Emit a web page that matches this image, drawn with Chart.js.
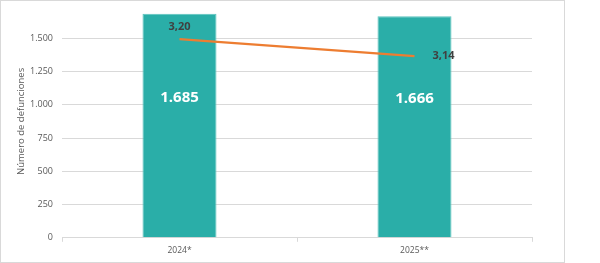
<!DOCTYPE html>
<html>
<head>
<meta charset="utf-8">
<script src="https://cdn.jsdelivr.net/npm/chart.js@4"></script>
<style>
    body { margin: 0; background: #fff; }
    #frame { position: absolute; left: 0; top: 0; width: 563px; height: 261px; border: 1px solid #d9d9d9; }
</style>
</head>
<body>
<div id="frame"><canvas id="chart" width="563" height="261"></canvas></div>
<script>
// Datos del gráfico
const years = ['2024*', '2025**'];
const deaths = [1685, 1666];
const rates = [3.20, 3.14];
const yTicks = [0, 250, 500, 750, 1000, 1250, 1500];

const fmtThousands = v => String(v).replace(/\B(?=(\d{3})+(?!\d))/g, '.');
const fmtRate = v => v.toFixed(2).replace('.', ',');

// Etiquetas de datos dibujadas a mano
const labelsPlugin = {
    id: 'labels',
    afterDatasetsDraw(chart) {
        const ctx = chart.ctx;
        ctx.save();
        ctx.textAlign = 'center';
        ctx.textBaseline = 'middle';

        const bars = chart.getDatasetMeta(1).data;
        ctx.fillStyle = '#ffffff';
        ctx.font = 'bold 15px "Open Sans"';
        bars.forEach((bar, i) => {
            const y = bar.y + (bar.base - bar.y) * 0.375;
            ctx.fillText(fmtThousands(deaths[i]), bar.x, y);
        });

        const pts = chart.getDatasetMeta(0).data;
        ctx.fillStyle = '#404040';
        ctx.font = 'bold 11px "Open Sans"';
        ctx.fillText(fmtRate(rates[0]), pts[0].x, pts[0].y - 12);
        ctx.textAlign = 'left';
        ctx.fillText(fmtRate(rates[1]), pts[1].x + 18, pts[1].y);
        ctx.restore();
    }
};

new Chart(document.getElementById('chart').getContext('2d'), {
    data: {
        labels: years,
        datasets: [{
            type: 'line',
            data: rates,
            yAxisID: 'y2',
            borderColor: '#ed7d31',
            borderWidth: 2.2,
            pointRadius: 0,
            order: 0
        }, {
            type: 'bar',
            data: deaths,
            yAxisID: 'y',
            backgroundColor: '#2aaea8',
            borderColor: '#5cc3be',
            borderWidth: 1,
            categoryPercentage: 1,
            barPercentage: 0.315,
            order: 1
        }]
    },
    options: {
        responsive: false,
        animation: false,
        layout: { padding: { left: 10, right: 32, top: 4, bottom: 2 } },
        plugins: {
            legend: { display: false },
            tooltip: { enabled: false }
        },
        scales: {
            x: {
                offset: true,
                grid: {
                    offset: true,
                    drawOnChartArea: false,
                    drawTicks: true,
                    tickLength: 4,
                    color: '#d9d9d9'
                },
                border: { color: '#d9d9d9' },
                ticks: { color: '#595959', font: { family: 'Open Sans', size: 8.5 }, padding: 4 }
            },
            y: {
                min: 0,
                max: 1750,
                afterBuildTicks: s => { s.ticks = yTicks.concat([1750]).map(v => ({ value: v })); },
                afterFit: s => { s.width = 51; s.paddingTop = 0; s.paddingBottom = 0; },
                grid: { color: '#d9d9d9', drawTicks: false },
                border: { display: false },
                ticks: {
                    color: '#595959',
                    font: { family: 'Open Sans', size: 9 },
                    padding: 9,
                    callback: v => v === 1750 ? null : fmtThousands(v)
                },
                title: {
                    display: true,
                    text: 'Número de defunciones',
                    color: '#595959',
                    font: { family: 'Open Sans', size: 9.5 },
                    padding: { top: 5, bottom: 0 }
                }
            },
            y2: {
                display: false,
                min: 2.5,
                max: 3.32
            }
        }
    },
    plugins: [labelsPlugin]
});
</script>
</body>
</html>
